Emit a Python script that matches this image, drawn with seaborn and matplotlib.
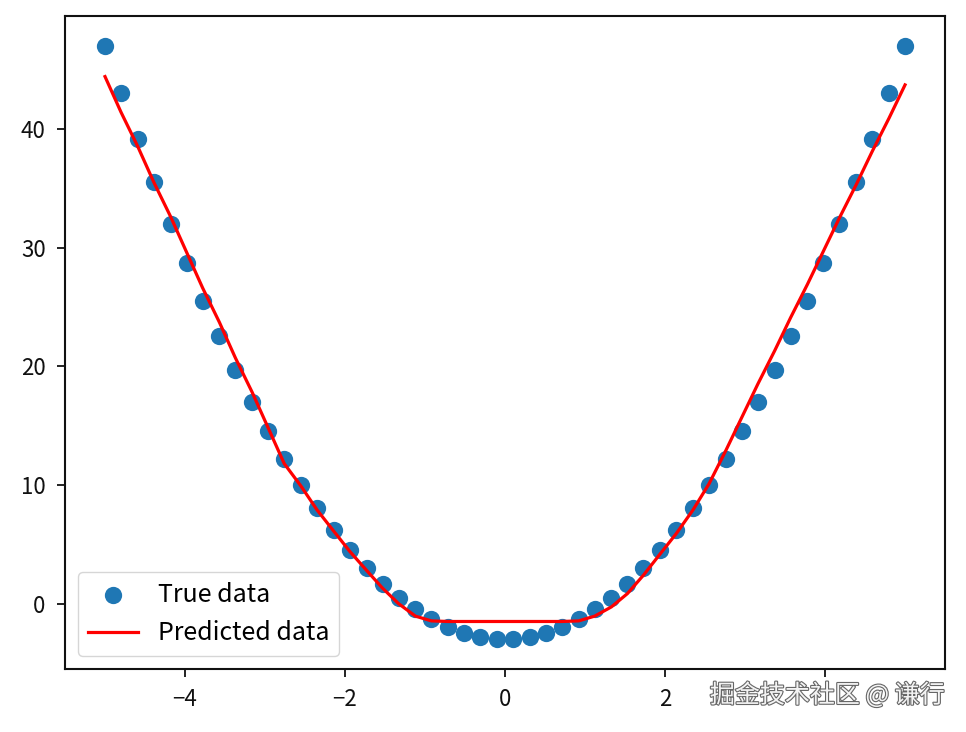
import matplotlib
matplotlib.use("Agg")
import matplotlib.pyplot as plt
import matplotlib.patheffects as pe
import seaborn as sns
import pandas as pd

plt.rcParams['font.family'] = ['Noto Sans CJK SC', 'DejaVu Sans']
plt.rcParams['axes.unicode_minus'] = True

# sample positions (50 evenly spaced points from -5 to 5)
x_vals = [-5.00, -4.80, -4.59, -4.39, -4.18, -3.98, -3.78, -3.57, -3.37, -3.16,
          -2.96, -2.76, -2.55, -2.35, -2.14, -1.94, -1.73, -1.53, -1.33, -1.12,
          -0.92, -0.71, -0.51, -0.31, -0.10, 0.10, 0.31, 0.51, 0.71, 0.92,
          1.12, 1.33, 1.53, 1.73, 1.94, 2.14, 2.35, 2.55, 2.76, 2.96,
          3.16, 3.37, 3.57, 3.78, 3.98, 4.18, 4.39, 4.59, 4.80, 5.00]

# blue dots
true_vals = [47.00, 43.00, 39.17, 35.51, 32.01, 28.67, 25.51, 22.51, 19.68, 17.01,
             14.51, 12.18, 10.02, 8.02, 6.18, 4.52, 3.02, 1.69, 0.52, -0.48,
             -1.31, -1.98, -2.48, -2.81, -2.98, -2.98, -2.81, -2.48, -1.98, -1.31,
             -0.48, 0.52, 1.69, 3.02, 4.52, 6.18, 8.02, 10.02, 12.18, 14.51,
             17.01, 19.68, 22.51, 25.51, 28.67, 32.01, 35.51, 39.17, 43.00, 47.00]

# red line
pred_vals = [44.4, 41.4, 38.5, 35.5, 32.6, 29.6, 26.6, 23.7, 20.7, 17.8,
             14.8, 11.8, 9.9, 7.9, 6.1, 4.4, 2.8, 1.3, 0.0, -1.05,
             -1.45, -1.5, -1.5, -1.5, -1.5, -1.5, -1.5, -1.5, -1.5, -1.45,
             -1.05, -0.27, 0.85, 2.4, 4.2, 5.9, 7.9, 10.1, 12.9, 15.7,
             18.5, 21.3, 24.1, 26.9, 29.7, 32.5, 35.3, 38.1, 40.9, 43.7]

df = pd.DataFrame({'x': x_vals, 'true': true_vals, 'pred': pred_vals})

fig, ax = plt.subplots(figsize=(9.66, 7.32), dpi=100)
fig.subplots_adjust(left=0.0673, right=0.9783, bottom=0.0861, top=0.9781)

sns.scatterplot(x='x', y='true', data=df, ax=ax, s=155, color='#1f77b4',
                linewidth=0, label='True data')
sns.lineplot(x='x', y='pred', data=df, ax=ax, color='red', linewidth=2.3,
             estimator=None, label='Predicted data', zorder=3)

ax.set_xlim(-5.5, 5.5)
ax.set_ylim(-5.5, 49.5)
ax.set_xticks([-4, -2, 0, 2, 4])
ax.set_yticks([0, 10, 20, 30, 40])
ax.set_xlabel('')
ax.set_ylabel('')
ax.tick_params(labelsize=16, length=6, width=1.3, pad=8, colors='#111111')
for sp in ax.spines.values():
    sp.set_linewidth(1.5)
    sp.set_color('#111111')

ax.legend(loc='lower left', fontsize=18, framealpha=0.8, edgecolor='#cccccc')

# watermark sits on a white patch, hiding the last x tick label as in the source
wm = fig.text(0.978, 0.05, '掘金技术社区 @ 谦行', ha='right', va='center',
              fontsize=18, color='#f4f4f4',
              bbox=dict(facecolor='white', edgecolor='none', pad=4))
wm.set_path_effects([pe.withStroke(linewidth=1.6, foreground='#666666')])

plt.savefig('out.png')
plt.close()
